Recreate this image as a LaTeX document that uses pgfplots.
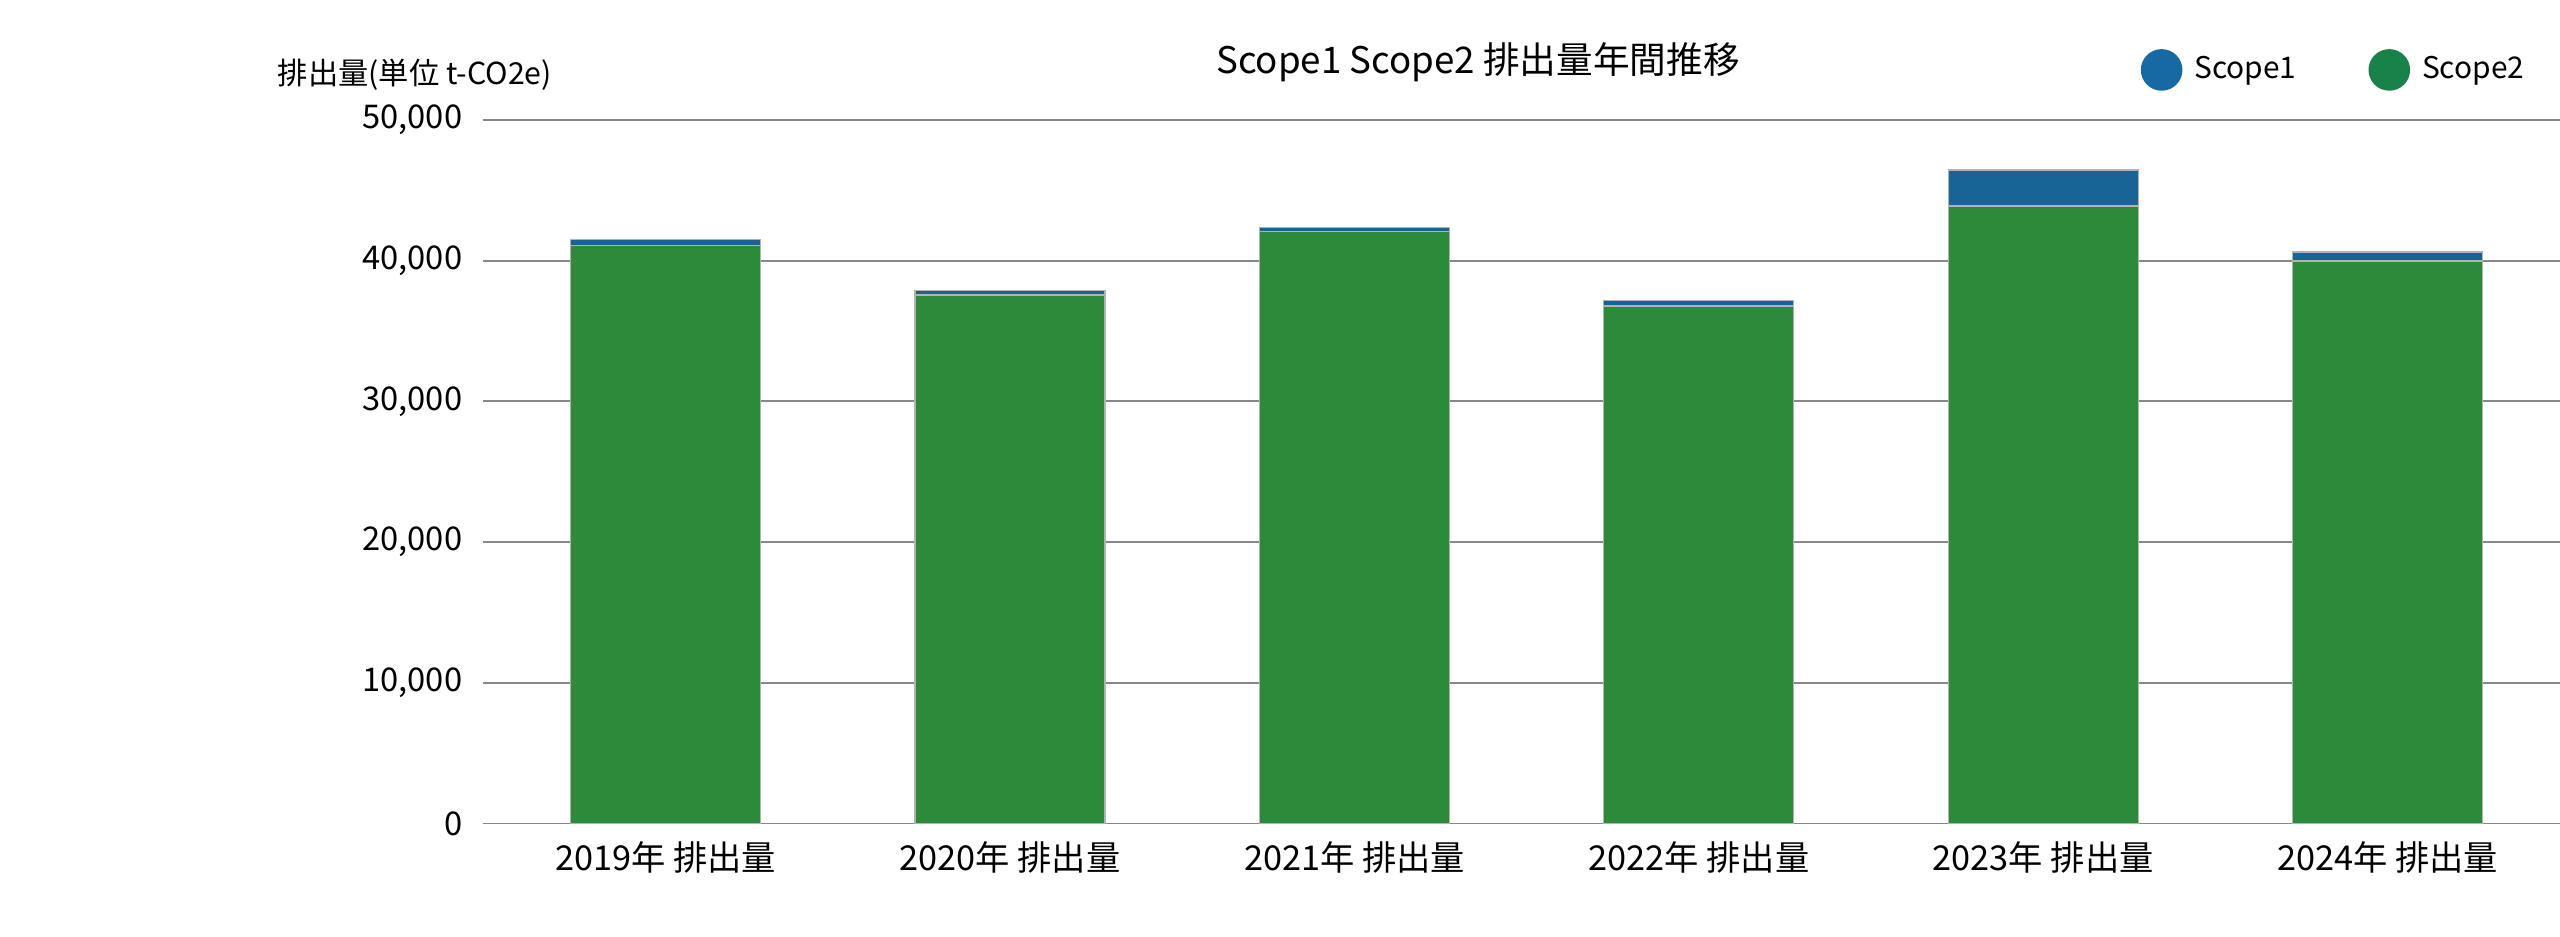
\documentclass[border=0pt]{standalone}
\usepackage{fontspec}
\setmainfont{Noto Sans CJK JP}
\usepackage{pgfplots}
\pgfplotsset{compat=1.18}
\definecolor{barGreen}{RGB}{44,139,59}
\definecolor{barBlue}{RGB}{25,100,150}
\definecolor{legBlue}{RGB}{22,105,163}
\definecolor{legGreen}{RGB}{24,130,74}
\definecolor{gridGray}{RGB}{136,136,136}
\begin{document}
\begin{tikzpicture}
\path[use as bounding box] (-120.75bp,-28.375bp) rectangle (519.25bp,205.875bp);
\begin{axis}[
  at={(0,0)}, anchor=south west,
  scale only axis, width=519.25bp, height=175.875bp,
  xmin=-0.53, xmax=5.5, ymin=0, ymax=50000,
  ybar stacked, bar width=47.5bp,
  axis line style={draw=none},
  ymajorgrids, major grid style={gridGray, line width=0.5bp},
  ytick={0,10000,20000,30000,40000,50000},
  xtick={0,1,2,3,4,5},
  xticklabels={2019年 排出量,2020年 排出量,2021年 排出量,2022年 排出量,2023年 排出量,2024年 排出量},
  major tick length=0pt,
  scaled y ticks=false,
  /pgf/number format/1000 sep={,},
  /pgf/number format/assume math mode=true,
  yticklabel style={anchor=east, inner sep=0pt, xshift=-5bp, font=\fontsize{8.2}{9}\selectfont},
  xticklabel style={anchor=center, inner sep=0pt, yshift=-8.4bp, font=\fontsize{8.6}{10}\selectfont},
  legend columns=2,
  legend style={at={(0.7978,1.0712)}, anchor=west, draw=none, fill=none, inner sep=0pt,
    font=\fontsize{7.5}{9}\selectfont,
    /tikz/every odd column/.append style={column sep=1bp},
    /tikz/every even column/.append style={column sep=16bp}},
]
\addplot[fill=barGreen, draw=gray!60, line width=0.3bp, forget plot] coordinates {
  (0,41100) (1,37560) (2,42060) (3,36780) (4,43890) (5,39980)};
\addplot[fill=barBlue, draw=gray!60, line width=0.3bp, forget plot] coordinates {
  (0,380) (1,330) (2,290) (3,380) (4,2560) (5,640)};
\addlegendimage{legend image code/.code={\fill[legBlue] (5bp,0bp) circle (5bp);}}
\addlegendentry{Scope1}
\addlegendimage{legend image code/.code={\fill[legGreen] (5bp,0bp) circle (5bp);}}
\addlegendentry{Scope2}
\end{axis}
\node[anchor=west, inner sep=0pt, font=\fontsize{7.6}{9}\selectfont] at (-51.5bp,187.1bp) {排出量(単位 t-CO2e)};
\node[inner sep=0pt, font=\fontsize{9.2}{11}\selectfont] at (248.75bp,190.4bp) {Scope1 Scope2 排出量年間推移};
\end{tikzpicture}
\end{document}
